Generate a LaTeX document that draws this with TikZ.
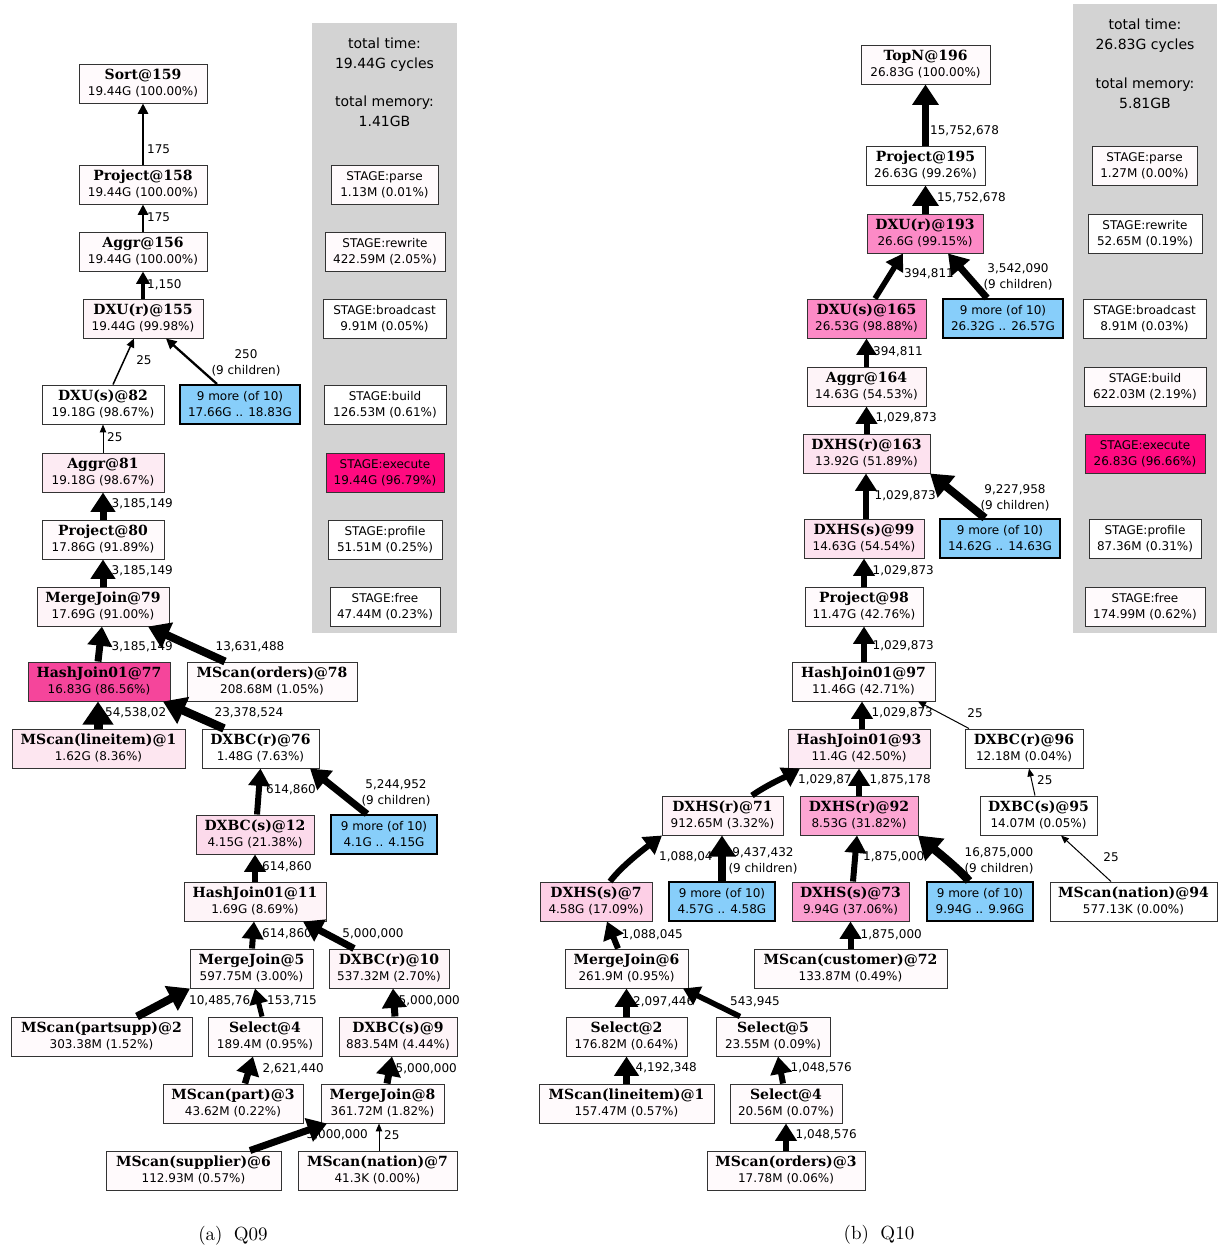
\documentclass[tikz,border=0pt]{standalone}
\usepackage{fontspec}
\setsansfont{DejaVu Sans}
\newfontfamily\opserif{DejaVu Serif}
\newfontfamily\capfont{lmroman10-regular.otf}
\usetikzlibrary{arrows.meta}

\definecolor{nw}{HTML}{FFFAFC}
\definecolor{pale}{HTML}{FEF4F8}
\definecolor{pA}{HTML}{FDEBF3}
\definecolor{pB}{HTML}{FDE6F0}
\definecolor{pC}{HTML}{FCDAEB}
\definecolor{hot}{HTML}{F5459B}
\definecolor{execc}{HTML}{FF0A80}
\definecolor{dxu}{HTML}{FC8AC6}
\definecolor{pNine}{HTML}{FCA6D3}
\definecolor{pSev}{HTML}{FB9ECF}
\definecolor{pSeven}{HTML}{FDCFE6}
\definecolor{pSix}{HTML}{FDE2EF}
\definecolor{pNthree}{HTML}{FDEAF3}
\definecolor{pSone}{HTML}{FFF3F8}
\definecolor{sky}{HTML}{87CEFA}
\definecolor{panel}{HTML}{D3D3D3}

% two centred lines, baseline of the box = baseline of the first line
\newcommand\twol[2]{\vtop{\baselineskip=16pt\halign{\hfil##\hfil\cr#1\cr#2\cr}}}
\newcommand\opname[1]{{\opserif\bfseries\fontsize{14}{16}\selectfont #1}}
\newcommand\op[2]{\twol{\opname{#1}}{#2}}
\newcommand\smallfont{\sffamily\fontsize{12}{16}\selectfont}

\tikzset{
  box/.style={draw=black!80, line width=1pt, inner sep=0pt, minimum height=39pt,
    text height=15pt, text depth=24pt, font=\smallfont, fill=nw},
  more/.style={box, fill=sky, draw=black, line width=2pt},
  flow/.style={line width=#1pt, -{Triangle[length=6pt 1.9, width=3.5pt 2.9]}},
  lbl/.style={font=\smallfont, inner sep=0pt},
  stat/.style={font=\sffamily\fontsize{14}{20}\selectfont, inner sep=0pt, align=center},
  captext/.style={font=\capfont\fontsize{19}{22}\selectfont, inner sep=0pt},
}

\begin{document}
\begin{tikzpicture}[x=1pt,y=-1pt]
\useasboundingbox (0,0) rectangle (1218,1251);

% ---------- summary panels ----------
\fill[panel] (312,23) rectangle (457,633);
\fill[panel] (1073,4) rectangle (1217,633);
\node[stat] (tta) at (384.5,55) {total time:\\19.44G cycles};
\node[stat] (tma) at (384.5,111) {total memory:\\1.41GB};
\node[stat] (ttb) at (1145,36) {total time:\\26.83G cycles};
\node[stat] (tmb) at (1145,93) {total memory:\\5.81GB};

\node[box, minimum width=107pt] (spA) at (384.5,184.5) {\twol{STAGE:parse}{1.13M (0.01\%)}};
\node[box, minimum width=120pt] (srA) at (385,251.5) {\twol{STAGE:rewrite}{422.59M (2.05\%)}};
\node[box, minimum width=123pt, fill=white] (sbA) at (384.5,318.5) {\twol{STAGE:broadcast}{9.91M (0.05\%)}};
\node[box, minimum width=122pt, fill=white] (sbuA) at (385,404.5) {\twol{STAGE:build}{126.53M (0.61\%)}};
\node[box, minimum width=118pt, fill=execc] (seA) at (385,472.5) {\twol{STAGE:execute}{19.44G (96.79\%)}};
\node[box, minimum width=114pt, fill=white] (sprA) at (385,539.5) {\twol{STAGE:profile}{51.51M (0.25\%)}};
\node[box, minimum width=110pt, fill=white] (sfA) at (385,606.5) {\twol{STAGE:free}{47.44M (0.23\%)}};

\node[box, minimum width=105pt] (spB) at (1144.5,165.5) {\twol{STAGE:parse}{1.27M (0.00\%)}};
\node[box, minimum width=114pt, fill=white] (srB) at (1145,233.5) {\twol{STAGE:rewrite}{52.65M (0.19\%)}};
\node[box, minimum width=123pt, fill=white] (sbB) at (1144.5,318.5) {\twol{STAGE:broadcast}{8.91M (0.03\%)}};
\node[box, minimum width=122pt] (sbuB) at (1145,386.5) {\twol{STAGE:build}{622.03M (2.19\%)}};
\node[box, minimum width=120pt, fill=execc] (seB) at (1145,453.5) {\twol{STAGE:execute}{26.83G (96.66\%)}};
\node[box, minimum width=112pt, fill=white] (sprB) at (1145,538.5) {\twol{STAGE:profile}{87.36M (0.31\%)}};
\node[box, minimum width=120pt] (sfB) at (1145,606.5) {\twol{STAGE:free}{174.99M (0.62\%)}};

% ---------- Q09 operators ----------
\node[box, minimum width=128pt] (sort159) at (143,83.5) {\op{Sort@159}{19.44G (100.00\%)}};
\node[box, minimum width=128pt] (proj158) at (143,184.5) {\op{Project@158}{19.44G (100.00\%)}};
\node[box, minimum width=128pt] (aggr156) at (143,251.5) {\op{Aggr@156}{19.44G (100.00\%)}};
\node[box, minimum width=120pt, fill=pale] (dxur155) at (143,318.5) {\op{DXU(r)@155}{19.44G (99.98\%)}};
\node[box, minimum width=122pt, fill=white] (dxus82) at (103,404.5) {\op{DXU(s)@82}{19.18G (98.67\%)}};
\node[more, minimum width=120pt] (moreA) at (240,404.5) {\twol{9 more (of 10)}{17.66G .. 18.83G}};
\node[box, minimum width=122pt, fill=pA] (aggr81) at (103,472.5) {\op{Aggr@81}{19.18G (98.67\%)}};
\node[box, minimum width=122pt] (proj80) at (103,539.5) {\op{Project@80}{17.86G (91.89\%)}};
\node[box, minimum width=132pt, fill=pale] (mj79) at (103,606.5) {\op{MergeJoin@79}{17.69G (91.00\%)}};
\node[box, minimum width=142pt, fill=hot] (hj77) at (99,681.5) {\op{HashJoin01@77}{16.83G (86.56\%)}};
\node[box, minimum width=170pt] (mso78) at (272,681.5) {\op{MScan(orders)@78}{208.68M (1.05\%)}};
\node[box, minimum width=173pt, fill=pB] (msl1) at (98.5,748.5) {\op{MScan(lineitem)@1}{1.62G (8.36\%)}};
\node[box, minimum width=117pt, fill=white] (dxbcr76) at (260.5,748.5) {\op{DXBC(r)@76}{1.48G (7.63\%)}};
\node[box, minimum width=118pt, fill=pC] (dxbcs12) at (255,834.5) {\op{DXBC(s)@12}{4.15G (21.38\%)}};
\node[more, minimum width=106pt] (moreB) at (384,834.5) {\twol{9 more (of 10)}{4.1G .. 4.15G}};
\node[box, minimum width=142pt, fill=pale] (hj11) at (255,901.5) {\op{HashJoin01@11}{1.69G (8.69\%)}};
\node[box, minimum width=123pt] (mj5) at (251.5,968.5) {\op{MergeJoin@5}{597.75M (3.00\%)}};
\node[box, minimum width=120pt, fill=pale] (dxbcr10) at (389,968.5) {\op{DXBC(r)@10}{537.32M (2.70\%)}};
\node[box, minimum width=181pt] (msps2) at (101.5,1036.5) {\op{MScan(partsupp)@2}{303.38M (1.52\%)}};
\node[box, minimum width=114pt] (sel4) at (265,1036.5) {\op{Select@4}{189.4M (0.95\%)}};
\node[box, minimum width=118pt, fill=pale] (dxbcs9) at (398,1036.5) {\op{DXBC(s)@9}{883.54M (4.44\%)}};
\node[box, minimum width=140pt] (msp3) at (233,1103.5) {\op{MScan(part)@3}{43.62M (0.22\%)}};
\node[box, minimum width=123pt] (mj8) at (382.5,1103.5) {\op{MergeJoin@8}{361.72M (1.82\%)}};
\node[box, minimum width=175pt] (mss6) at (193.5,1170.5) {\op{MScan(supplier)@6}{112.93M (0.57\%)}};
\node[box, minimum width=159pt] (msn7) at (377.5,1170.5) {\op{MScan(nation)@7}{41.3K (0.00\%)}};

% ---------- Q10 operators ----------
\node[box, minimum width=129pt] (topn196) at (925.5,64.5) {\op{TopN@196}{26.83G (100.00\%)}};
\node[box, minimum width=119pt, fill=white] (proj195) at (925.5,165.5) {\op{Project@195}{26.63G (99.26\%)}};
\node[box, minimum width=116pt, fill=dxu] (dxur193) at (925,233.5) {\op{DXU(r)@193}{26.6G (99.15\%)}};
\node[box, minimum width=119pt, fill=dxu] (dxus165) at (866.5,318.5) {\op{DXU(s)@165}{26.53G (98.88\%)}};
\node[more, minimum width=120pt] (moreC) at (1003,318.5) {\twol{9 more (of 10)}{26.32G .. 26.57G}};
\node[box, minimum width=119pt, fill=pale] (aggr164) at (866.5,386.5) {\op{Aggr@164}{14.63G (54.53\%)}};
\node[box, minimum width=127pt, fill=pSix] (dxhsr163) at (866.5,453.5) {\op{DXHS(r)@163}{13.92G (51.89\%)}};
\node[box, minimum width=120pt, fill=pSix] (dxhss99) at (864,538.5) {\op{DXHS(s)@99}{14.63G (54.54\%)}};
\node[more, minimum width=120pt] (moreD) at (1000,538.5) {\twol{9 more (of 10)}{14.62G .. 14.63G}};
\node[box, minimum width=118pt] (proj98) at (864,606.5) {\op{Project@98}{11.47G (42.76\%)}};
\node[box, minimum width=143pt] (hj97) at (863.5,681.5) {\op{HashJoin01@97}{11.46G (42.71\%)}};
\node[box, minimum width=142pt, fill=pNthree] (hj93) at (859,748.5) {\op{HashJoin01@93}{11.4G (42.50\%)}};
\node[box, minimum width=118pt, fill=white] (dxbcr96) at (1024,748.5) {\op{DXBC(r)@96}{12.18M (0.04\%)}};
\node[box, minimum width=121pt, fill=pSone] (dxhsr71) at (722.5,815.5) {\op{DXHS(r)@71}{912.65M (3.32\%)}};
\node[box, minimum width=118pt, fill=pNine] (dxhsr92) at (859,815.5) {\op{DXHS(r)@92}{8.53G (31.82\%)}};
\node[box, minimum width=117pt, fill=white] (dxbcs95) at (1038.5,815.5) {\op{DXBC(s)@95}{14.07M (0.05\%)}};
\node[box, minimum width=112pt, fill=pSeven] (dxhss7) at (596,901.5) {\op{DXHS(s)@7}{4.58G (17.09\%)}};
\node[more, minimum width=106pt] (moreE) at (722,901.5) {\twol{9 more (of 10)}{4.57G .. 4.58G}};
\node[box, minimum width=117pt, fill=pSev] (dxhss73) at (850.5,901.5) {\op{DXHS(s)@73}{9.94G (37.06\%)}};
\node[more, minimum width=106pt] (moreF) at (980,901.5) {\twol{9 more (of 10)}{9.94G .. 9.96G}};
\node[box, minimum width=167pt, fill=white] (msn94) at (1133.5,901.5) {\op{MScan(nation)@94}{577.13K (0.00\%)}};
\node[box, minimum width=123pt] (mj6) at (626.5,968.5) {\op{MergeJoin@6}{261.9M (0.95\%)}};
\node[box, minimum width=193pt] (msc72) at (850.5,968.5) {\op{MScan(customer)@72}{133.87M (0.49\%)}};
\node[box, minimum width=121pt] (sel2) at (626.5,1036.5) {\op{Select@2}{176.82M (0.64\%)}};
\node[box, minimum width=114pt] (sel5) at (773,1036.5) {\op{Select@5}{23.55M (0.09\%)}};
\node[box, minimum width=175pt] (msl1b) at (626.5,1103.5) {\op{MScan(lineitem)@1}{157.47M (0.57\%)}};
\node[box, minimum width=112pt] (sel4b) at (786,1103.5) {\op{Select@4}{20.56M (0.07\%)}};
\node[box, minimum width=158pt] (mso3) at (786,1170.5) {\op{MScan(orders)@3}{17.78M (0.06\%)}};

% ---------- edge labels (Q09) ----------
\node[lbl, anchor=west] (la1) at (147,149) {175};
\node[lbl, anchor=west] (la2) at (147,217) {175};
\node[lbl, anchor=west] (la3) at (147,285) {1,150};
\node[lbl] (la4) at (144,360) {25};
\node[lbl] (la5) at (246,363) {\twol{250}{(9 children)}};
\node[lbl, anchor=west] (la6) at (107,437) {25};
\node[lbl, anchor=east] (la7) at (173,504) {3,185,149};
\node[lbl, anchor=east] (la8) at (173,571) {3,185,149};
\node[lbl, anchor=east] (la9) at (173,647) {3,185,149};
\node[lbl] (la10) at (250,647) {13,631,488};
\node[lbl, anchor=west] (la11) at (105,713) {54,538,02};
\node[lbl] (la12) at (249,713) {23,378,524};
\node[lbl] (la13) at (291,790) {614,860};
\node[lbl] (la14) at (396,793) {\twol{5,244,952}{(9 children)}};
\node[lbl] (la15) at (287,867) {614,860};
\node[lbl] (la16) at (287,934) {614,860};
\node[lbl] (la17) at (373,934) {5,000,000};
\node[lbl, anchor=west] (la18) at (189,1001) {10,485,76};
\node[lbl] (la19) at (292,1001) {153,715};
\node[lbl, anchor=east] (la20) at (460,1001) {5,000,000};
\node[lbl, anchor=east] (la21) at (324,1069) {2,621,440};
\node[lbl, anchor=east] (la22) at (457,1069) {5,000,000};
\node[lbl, anchor=east] (la23) at (368,1135) {5,000,000};
\node[lbl, anchor=west] (la24) at (384,1135) {25};

% ---------- edge labels (Q10) ----------
\node[lbl, anchor=west] (lb1) at (930,131) {15,752,678};
\node[lbl, anchor=east] (lb2) at (1006,198) {15,752,678};
\node[lbl] (lb3) at (929,274) {394,811};
\node[lbl] (lb4) at (1018,277) {\twol{3,542,090}{(9 children)}};
\node[lbl, anchor=east] (lb5) at (923,352) {394,811};
\node[lbl, anchor=east] (lb6) at (937,418) {1,029,873};
\node[lbl, anchor=east] (lb7) at (936,496) {1,029,873};
\node[lbl] (lb8) at (1015,498) {\twol{9,227,958}{(9 children)}};
\node[lbl, anchor=east] (lb9) at (934,571) {1,029,873};
\node[lbl, anchor=east] (lb10) at (934,646) {1,029,873};
\node[lbl, anchor=east] (lb11) at (933,713) {1,029,873};
\node[lbl] (lb12) at (975,713) {25};
\node[lbl, anchor=west] (lb13) at (798,780) {1,029,87};
\node[lbl, anchor=east] (lb14) at (931,780) {1,875,178};
\node[lbl, anchor=west] (lb15) at (1037,780) {25};
\node[lbl, anchor=west] (lb16) at (659,857) {1,088,04};
\node[lbl] (lb17) at (763,861) {\twol{9,437,432}{(9 children)}};
\node[lbl, anchor=west] (lb18) at (863,857) {1,875,000};
\node[lbl] (lb19) at (999,861) {\twol{16,875,000}{(9 children)}};
\node[lbl] (lb20) at (1111,857) {25};
\node[lbl, anchor=east] (lb21) at (683,935) {1,088,045};
\node[lbl, anchor=east] (lb22) at (922,935) {1,875,000};
\node[lbl, anchor=west] (lb23) at (633,1002) {2,097,446};
\node[lbl] (lb24) at (755,1002) {543,945};
\node[lbl, anchor=east] (lb25) at (697,1068) {4,192,348};
\node[lbl, anchor=east] (lb26) at (852,1068) {1,048,576};
\node[lbl, anchor=east] (lb27) at (857,1135) {1,048,576};

% ---------- Q09 data flow ----------
\draw[flow=2.3] (proj158.north) -- (sort159.south);
\draw[flow=2.3] (aggr156.north) -- (proj158.south);
\draw[flow=3.3] (dxur155.north) -- (aggr156.south);
\draw[flow=1.5] ([xshift=10pt]dxus82.north) -- ([xshift=-9pt]dxur155.south);
\draw[flow=2.3] ([xshift=-23pt]moreA.north) -- ([xshift=23pt]dxur155.south);
\draw[flow=1] (aggr81.north) -- (dxus82.south);
\draw[flow=7] (proj80.north) -- (aggr81.south);
\draw[flow=7] (mj79.north) -- (proj80.south);
\draw[flow=7] ([xshift=-1pt]hj77.north) -- ([xshift=-1pt]mj79.south);
\draw[flow=8] ([xshift=-47pt]mso78.north) -- ([xshift=45pt]mj79.south);
\draw[flow=9] ([xshift=-0.5pt]msl1.north) -- ([xshift=-1pt]hj77.south);
\draw[flow=8.5] ([xshift=-36.5pt]dxbcr76.north) -- ([xshift=64pt]hj77.south);
\draw[flow=6] ([xshift=2pt]dxbcs12.north) -- (dxbcr76.south);
\draw[flow=7] ([xshift=-17pt]moreB.north) -- ([xshift=49.5pt]dxbcr76.south);
\draw[flow=6] (hj11.north) -- (dxbcs12.south);
\draw[flow=6] ([xshift=0.5pt]mj5.north) -- ([xshift=-1pt]hj11.south);
\draw[flow=7] ([xshift=-35pt]dxbcr10.north) -- ([xshift=48pt]hj11.south);
\draw[flow=8] ([xshift=35.5pt]msps2.north) -- ([xshift=-61.5pt]mj5.south);
\draw[flow=5] ([xshift=-3pt]sel4.north) -- ([xshift=3.5pt]mj5.south);
\draw[flow=7] ([xshift=-3pt]dxbcs9.north) -- ([xshift=4pt]dxbcr10.south);
\draw[flow=6.5] ([xshift=12pt]msp3.north) -- ([xshift=-12pt]sel4.south);
\draw[flow=7] ([xshift=4.5pt]mj8.north) -- ([xshift=-6pt]dxbcs9.south);
\draw[flow=7] ([xshift=56.5pt]mss6.north) -- ([xshift=-55.5pt]mj8.south);
\draw[flow=1] ([xshift=1.5pt]msn7.north) -- ([xshift=-3.5pt]mj8.south);

% ---------- Q10 data flow ----------
\draw[flow=7.5] (proj195.north) -- (topn196.south);
\draw[flow=7.5] ([xshift=0.5pt]dxur193.north) -- (proj195.south);
\draw[flow=5.5] ([xshift=8.5pt]dxus165.north) -- ([xshift=-22pt]dxur193.south);
\draw[flow=7] ([xshift=-16pt]moreC.north) -- ([xshift=23pt]dxur193.south);
\draw[flow=5.5] (aggr164.north) -- (dxus165.south);
\draw[flow=6] (dxhsr163.north) -- (aggr164.south);
\draw[flow=6] ([xshift=2pt]dxhss99.north) -- ([xshift=-0.5pt]dxhsr163.south);
\draw[flow=8] ([xshift=-15pt]moreD.north) -- ([xshift=63.5pt]dxhsr163.south);
\draw[flow=6] (proj98.north) -- (dxhss99.south);
\draw[flow=6] ([xshift=0.5pt]hj97.north) -- (proj98.south);
\draw[flow=6] ([xshift=3pt]hj93.north) -- ([xshift=-1.5pt]hj97.south);
\draw[flow=1] ([xshift=-55pt]dxbcr96.north) -- ([xshift=54.5pt]hj97.south);
\draw[flow=6] ([xshift=29.5pt]dxhsr71.north) .. controls +(14,-10) and +(-14,8) .. ([xshift=-59pt]hj93.south);
\draw[flow=6] (dxhsr92.north) -- (hj93.south);
\draw[flow=1] ([xshift=-3.5pt]dxbcs95.north) -- ([xshift=5pt]dxbcr96.south);
\draw[flow=6] ([xshift=14pt]dxhss7.north) .. controls +(12,-16) and +(-16,12) .. ([xshift=-60.5pt]dxhsr71.south);
\draw[flow=8] (moreE.north) -- ([xshift=-0.5pt]dxhsr71.south);
\draw[flow=6] ([xshift=2.5pt]dxhss73.north) -- ([xshift=-2pt]dxhsr92.south);
\draw[flow=8.5] ([xshift=-11pt]moreF.north) .. controls +(-10,-12) and +(14,12) .. ([xshift=59pt]dxhsr92.south);
\draw[flow=1] ([xshift=-22.5pt]msn94.north) -- ([xshift=22.5pt]dxbcs95.south);
\draw[flow=6] ([xshift=-8.5pt]mj6.north) -- ([xshift=11pt]dxhss7.south);
\draw[flow=6] (msc72.north) -- (dxhss73.south);
\draw[flow=6.5] (sel2.north) -- (mj6.south);
\draw[flow=5.5] ([xshift=-33pt]sel5.north) -- ([xshift=56.5pt]mj6.south);
\draw[flow=7] (msl1b.north) -- (sel2.south);
\draw[flow=6] ([xshift=-3pt]sel4b.north) -- ([xshift=5pt]sel5.south);
\draw[flow=6] (mso3.north) -- (sel4b.south);

% ---------- captions ----------
\node[captext] (capA) at (233,1236) {(a)\hspace{0.6em}Q09};
\node[captext] (capB) at (879,1235) {(b)\hspace{0.6em}Q10};
\end{tikzpicture}
\end{document}
